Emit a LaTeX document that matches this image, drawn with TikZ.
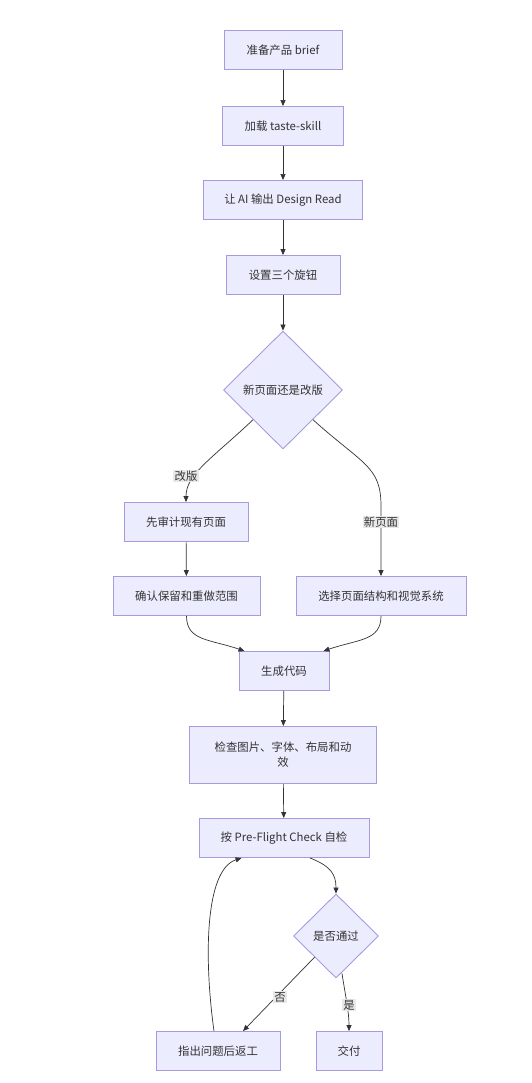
\documentclass[tikz,border=0pt]{standalone}
\usepackage{fontspec}
\setmainfont{Noto Sans CJK SC}
\usetikzlibrary{shapes.geometric,arrows.meta,calc}
\definecolor{boxfill}{HTML}{ECECFF}
\definecolor{boxline}{HTML}{A79BDD}
\definecolor{ink}{HTML}{333333}
\definecolor{lblbg}{HTML}{E8E8E8}
\tikzset{
  every node/.style={font=\fontsize{11.4}{15}\selectfont, text=ink},
  proc/.style={draw=boxline, fill=boxfill, line width=0.9pt, inner sep=0pt, minimum height=39pt},
  dec/.style={diamond, draw=boxline, fill=boxfill, line width=0.9pt, inner sep=0pt},
  lbl/.style={fill=lblbg, inner sep=1.2pt},
  conn/.style={draw=ink, line width=0.7pt, -{Triangle[length=6pt,width=5pt]}},
}
\begin{document}
\begin{tikzpicture}[x=1pt,y=-1pt]
\fill[white] (0,0) rectangle (531,1083);
\useasboundingbox (0,0) rectangle (531,1083);

\node[proc, minimum width=118pt] (n1) at (283,50) {准备产品 brief};
\node[proc, minimum width=121pt] (n2) at (283,126) {加载 taste-skill};
\node[proc, minimum width=159pt] (n3) at (283,200) {让 AI 输出 Design Read};
\node[proc, minimum width=114pt] (n4) at (283,275) {设置三个旋钮};
\node[dec, minimum width=119pt, minimum height=118pt] (d1) at (283,390) {新页面还是改版};
\node[proc, minimum width=124pt] (a) at (186,522) {先审计现有页面};
\node[proc, minimum width=147pt] (c) at (186.5,596) {确认保留和重做范围};
\node[proc, minimum width=170pt] (b) at (381,596) {选择页面结构和视觉系统};
\node[proc, minimum width=90pt] (g) at (284,671) {生成代码};
\node[proc, minimum width=187pt, minimum height=57pt, align=center] (k) at (283,755) {检查图片、字体、布局和动\\效};
\node[proc, minimum width=170pt] (p) at (284,838) {按 Pre-Flight Check 自检};
\node[dec, minimum width=85pt, minimum height=84pt] (d2) at (336,936) {是否通过};
\node[proc, minimum width=124pt] (r) at (218,1051) {指出问题后返工};
\node[proc, minimum width=66pt] (e) at (349,1051) {交付};

\draw[conn] (n1) -- (n2);
\draw[conn] (n2) -- (n3);
\draw[conn] (n3) -- (n4);
\draw[conn] (n4) -- (d1);
\draw[conn] (d1.south west) .. controls +(-40,38) and +(0,-28) .. (a.north);
\draw[conn] (d1.south east) .. controls +(50,45) and +(0,-40) .. ($(b.north)+(0,-70)$) -- (b.north);
\draw[conn] (a) -- (c);
\draw[conn] (c.south) .. controls +(0,25) and +(-35,-12) .. ($(g.north west)+(6,0)$);
\draw[conn] (b.south) .. controls +(0,25) and +(35,-12) .. ($(g.north east)+(-6,0)$);
\draw[conn] (g) -- (k);
\draw[conn] (k) -- (p);
\draw[conn] ($(p.south)+(26,0)$) .. controls +(20,8) and +(0,-20) .. (d2.north);
\draw[conn] (d2.south west) -- ($(r.north)+(25,0)$);
\draw[conn] ($(d2.south)+(6,-5)$) .. controls +(3,20) and +(0,-20) .. (e.north);
\draw[conn] ($(r.north)+(-4,0)$) .. controls +(-10,-72) and +(-37,12) .. ($(p.south west)+(43,0)$);

\node[lbl] (l1) at (186,476) {改版};
\node[lbl] (l2) at (381,522) {新页面};
\node[lbl] (l3) at (280,997) {否};
\node[lbl] (l4) at (349,1005) {是};
\end{tikzpicture}
\end{document}
